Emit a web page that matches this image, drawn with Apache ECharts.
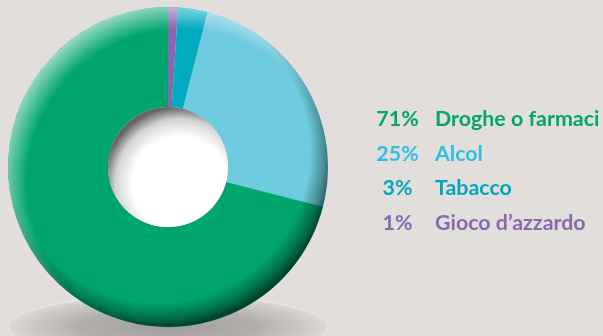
<!DOCTYPE html>
<html>
<head>
<meta charset="utf-8">
<script src="https://cdn.jsdelivr.net/npm/echarts@6/dist/echarts.min.js"></script>
<style>
  html, body { margin: 0; padding: 0; background: #e2dedb; }
  #chart { width: 603px; height: 336px; }
</style>
</head>
<body>
<div id="chart"></div>
<script>
// Categories, values and colours (clockwise from 12 o'clock)
const categories = ['Gioco d\u2019azzardo', 'Tabacco', 'Alcol', 'Droghe o farmaci'];
const shares = [1, 3, 25, 71];
const sliceColors = ['#8766ae', '#00aac1', '#6fcbdf', '#00a56d'];
const labelColors = ['#8a68b0', '#00a7bf', '#2cbfe0', '#00a767'];
// Legend is listed from the largest share down
const legendOrder = ['Droghe o farmaci', 'Alcol', 'Tabacco', 'Gioco d\u2019azzardo'];

const CENTER = [168, 167];
const R_IN = 60, R_OUT = 160;
const FONT = 21.4;

const chart = echarts.init(document.getElementById('chart'), null, { renderer: 'canvas' });

const pieData = categories.map((name, i) => ({
  name,
  value: shares[i],
  itemStyle: { color: sliceColors[i] }
}));

const legendData = legendOrder.map(name => {
  const i = categories.indexOf(name);
  return { name, icon: 'none', textStyle: { color: labelColors[i] } };
});

const rg = (x, y, r, stops) => ({
  type: 'radial', x, y, r,
  colorStops: stops.map(([offset, color]) => ({ offset, color }))
});

const txt = { fontFamily: 'Lato', fontWeight: 'bold', fontSize: FONT, lineHeight: 22 };

chart.setOption({
  backgroundColor: '#e2dedb',
  animation: false,
  legend: {
    orient: 'vertical',
    left: 366,
    top: 103,
    itemWidth: 0,
    itemHeight: 0,
    itemGap: 12.7,
    selectedMode: false,
    data: legendData,
    formatter: name => {
      const i = categories.indexOf(name);
      return '{pct|' + shares[i] + '%}{name|' + name + '}';
    },
    textStyle: Object.assign({}, txt, {
      rich: {
        pct: Object.assign({ width: 43, align: 'right' }, txt),
        name: Object.assign({ padding: [0, 0, 0, 16] }, txt)
      }
    })
  },
  graphic: [
    {
      // soft floor shadow beneath the ring
      type: 'circle',
      z: 0,
      silent: true,
      x: CENTER[0],
      y: 327,
      scaleY: 0.2,
      shape: { cx: 0, cy: 0, r: 160 },
      style: {
        fill: rg(0.5, 0.5, 0.5, [[0, '#a19d9c'], [0.55, '#b3afad'], [0.9, '#d2cecb'], [1, '#dedad7']]),
        stroke: 'rgba(255,255,255,0.55)',
        lineWidth: 1
      }
    }
  ],
  series: [
    {
      name: 'Dipendenze',
      type: 'pie',
      center: CENTER,
      radius: [R_IN, R_OUT],
      startAngle: 90,
      clockwise: true,
      silent: true,
      label: { show: false },
      labelLine: { show: false },
      itemStyle: { borderWidth: 0 },
      data: pieData,
      z: 2
    },
    {
      // dark rim towards the lower right
      type: 'pie',
      center: CENTER,
      radius: [R_IN, R_OUT],
      silent: true,
      label: { show: false },
      labelLine: { show: false },
      data: [{ value: 1, name: '' }],
      itemStyle: {
        color: rg(0.47, 0.45, 0.55, [[0, 'rgba(0,30,20,0)'], [0.86, 'rgba(0,30,20,0)'], [0.94, 'rgba(0,30,20,0.35)'], [1, 'rgba(0,25,15,0.7)']])
      },
      z: 3
    },
    {
      // pale sheen towards the upper left
      type: 'pie',
      center: CENTER,
      radius: [R_IN, R_OUT],
      silent: true,
      label: { show: false },
      labelLine: { show: false },
      data: [{ value: 1, name: '' }],
      itemStyle: {
        color: rg(0.54, 0.55, 0.565, [[0, 'rgba(255,255,255,0)'], [0.85, 'rgba(255,255,255,0)'], [1, 'rgba(255,255,255,0.6)']])
      },
      z: 3
    },
    {
      // recessed hole in the middle
      type: 'pie',
      center: CENTER,
      radius: [0, R_IN],
      silent: true,
      label: { show: false },
      labelLine: { show: false },
      data: [{ value: 1, name: '' }],
      itemStyle: {
        color: rg(0.6, 0.64, 0.64, [[0, '#ffffff'], [0.62, '#ffffff'], [0.84, '#d4d4d4'], [1, '#666666']])
      },
      z: 4
    }
  ]
});
</script>
</body>
</html>
